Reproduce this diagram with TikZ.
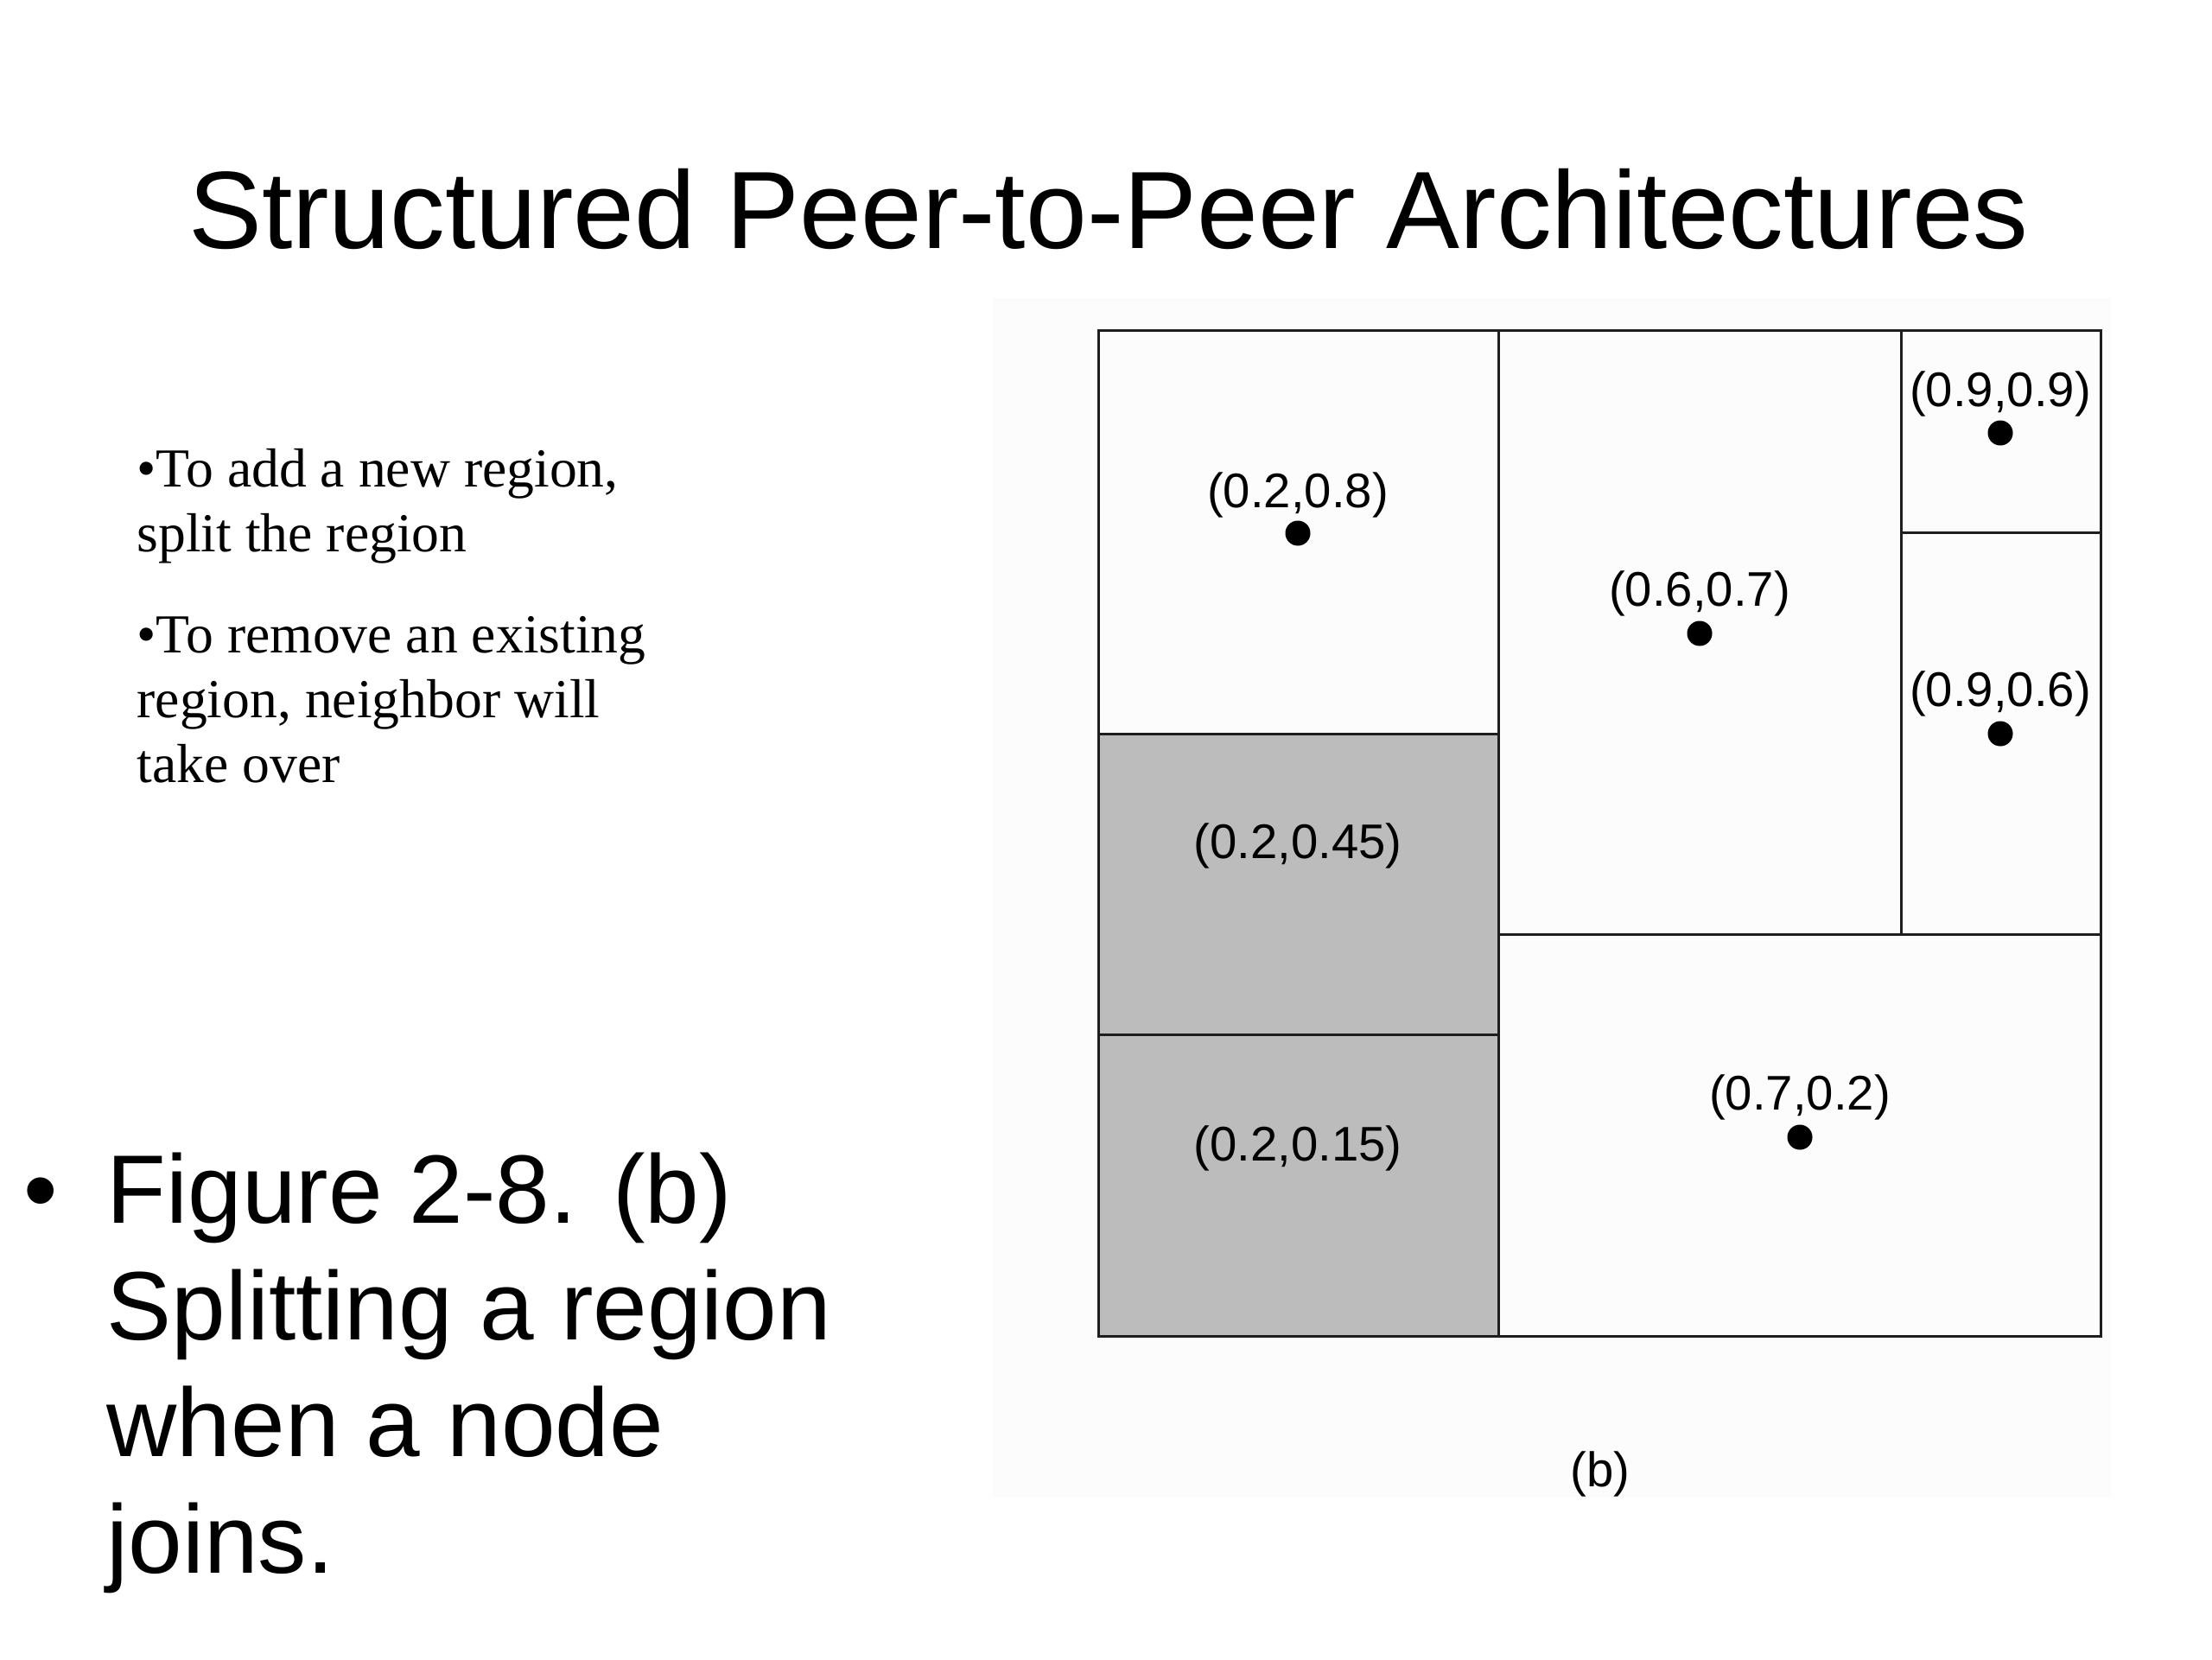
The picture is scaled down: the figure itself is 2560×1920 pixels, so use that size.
\documentclass[tikz,border=0pt]{standalone}
\usepackage{fontspec}
\setmainfont{Liberation Sans}
\newfontfamily\serifT{Liberation Serif}
\definecolor{panelgray}{HTML}{FCFCFC}
\definecolor{regiongray}{HTML}{BCBCBC}
\definecolor{linegray}{HTML}{1E1E1E}
\begin{document}
\begin{tikzpicture}[x=0.01cm,y=-0.01cm,
  gridline/.style={draw=linegray, line width=0.85pt},
  lbl/.style={font=\fontsize{16}{19}\selectfont, anchor=base, inner sep=0pt},
  peer/.style={circle, fill=black, inner sep=0pt, minimum size=0.29cm},
  smalltext/.style={font=\serifT\fontsize{18.1}{21.6}\selectfont, anchor=base west, inner sep=0pt},
  bigtext/.style={font=\fontsize{32}{38.4}\selectfont, anchor=base west, inner sep=0pt}]
\useasboundingbox (0,0) rectangle (2560,1920);
\fill[white] (0,0) rectangle (2560,1920);
% title
\node[font=\fontsize{36.2}{43}\selectfont, anchor=base, inner sep=0pt] (title) at (1283,287) {Structured Peer-to-Peer Architectures};
% small notes
\node[smalltext] (n1) at (158,563) {•To add a new region,};
\node[smalltext] (n2) at (158,638) {split the region};
\node[smalltext] (n3) at (158,755) {•To remove an existing};
\node[smalltext] (n4) at (158,830) {region, neighbor will};
\node[smalltext] (n5) at (158,905) {take over};
% big bullet text
\node[bigtext] (bul) at (27,1415) {•};
\node[bigtext] (b1) at (123,1415) {Figure 2-8. (b)};
\node[bigtext] (b2) at (123,1550) {Splitting a region};
\node[bigtext] (b3) at (123,1685) {when a node};
\node[bigtext] (b4) at (123,1820) {joins.};
% figure panel
\fill[panelgray] (1149,345) rectangle (2443,1733);
\fill[regiongray] (1271,849) rectangle (1734,1546);
\draw[gridline] (1271,382) rectangle (2431,1546);
\draw[gridline] (1734,382) -- (1734,1546);
\draw[gridline] (1271,849) -- (1734,849);
\draw[gridline] (1271,1197) -- (1734,1197);
\draw[gridline] (1734,1081) -- (2431,1081);
\draw[gridline] (2200,382) -- (2200,1081);
\draw[gridline] (2200,616) -- (2431,616);
% labels and peers
\node[lbl] (l28) at (1502,587) {(0.2,0.8)};
\node[peer] (p28) at (1502,617) {};
\node[lbl] (l67) at (1967,701) {(0.6,0.7)};
\node[peer] (p67) at (1967,733) {};
\node[lbl] (l99) at (2315,470) {(0.9,0.9)};
\node[peer] (p99) at (2315,501) {};
\node[lbl] (l96) at (2315,817) {(0.9,0.6)};
\node[peer] (p96) at (2315,849) {};
\node[lbl] (l245) at (1502,993) {(0.2,0.45)};
\node[lbl] (l215) at (1502,1343) {(0.2,0.15)};
\node[lbl] (l72) at (2083,1284) {(0.7,0.2)};
\node[peer] (p72) at (2083,1316) {};
\node[lbl] (cap) at (1852,1720) {(b)};
\end{tikzpicture}
\end{document}
